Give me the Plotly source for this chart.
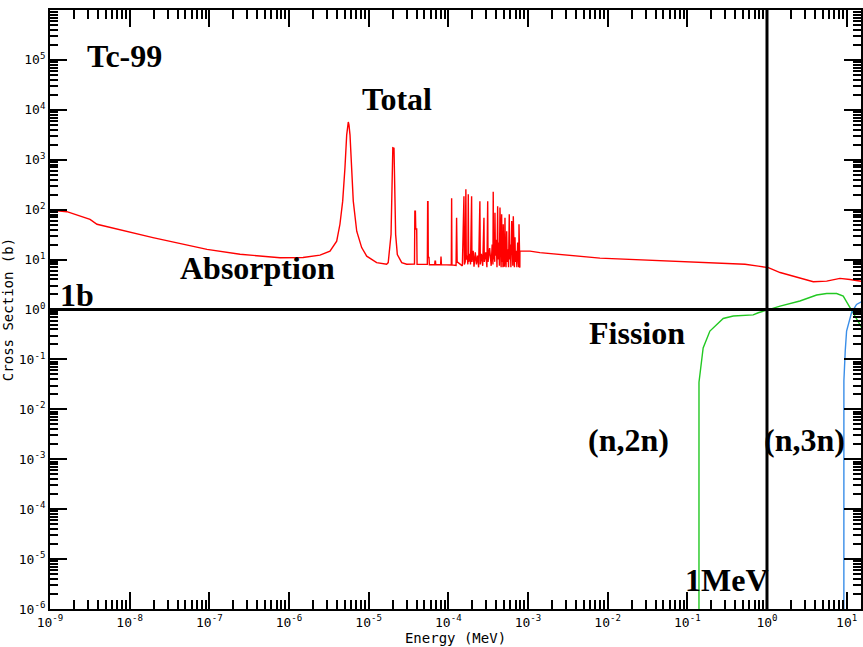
import plotly.graph_objects as go

# ---------------- data ----------------
# Total cross section of Tc-99 (energy in MeV, cross section in barns)
total_energy = [
    1.0e-9, 1.63e-9, 3.18e-9, 3.89e-9, 1.96e-8, 9.35e-8, 2.43e-7, 7.70e-7, 1.5e-6,
    2.45e-6, 3.27e-6, 3.97e-6, 4.36e-6, 4.72e-6, 5.04e-6, 5.30e-6, 5.55e-6, 5.66e-6,
    5.83e-6, 6.12e-6, 6.41e-6, 7.08e-6, 8.17e-6, 9.45e-6, 1.26e-5, 1.68e-5,
    1.76e-5, 1.91e-5, 2.01e-5, 2.08e-5, 2.18e-5, 2.29e-5, 2.60e-5, 3.0e-5,
    3.76e-5, 3.80e-5, 3.86e-5, 3.90e-5, 4.01e-5, 4.05e-5,
    5.45e-5, 5.50e-5, 5.56e-5, 5.60e-5, 5.72e-5, 5.78e-5,
    6.75e-5, 6.80e-5, 6.90e-5, 6.95e-5,
    8.00e-5, 8.09e-5, 8.20e-5,
    1.09e-4, 1.10e-4, 1.11e-4,
    1.25e-4, 1.27e-4, 1.29e-4,
    1.50e-4, 1.57e-4, 1.59e-4, 1.63e-4, 1.66e-4, 1.68e-4, 1.72e-4, 1.76e-4, 1.78e-4,
    1.80e-4, 1.86e-4, 1.90e-4, 1.96e-4, 1.98e-4, 2.05e-4, 2.10e-4, 2.18e-4, 2.25e-4,
    2.32e-4, 2.40e-4, 2.49e-4, 2.52e-4, 2.60e-4, 2.70e-4, 2.80e-4, 2.83e-4, 2.95e-4,
    3.05e-4, 3.12e-4, 3.15e-4, 3.30e-4, 3.45e-4, 3.55e-4, 3.63e-4, 3.66e-4, 3.70e-4,
    3.78e-4, 3.82e-4, 3.85e-4, 3.90e-4, 4.00e-4, 4.08e-4, 4.16e-4, 4.20e-4, 4.30e-4,
    4.38e-4, 4.45e-4, 4.50e-4, 4.60e-4, 4.67e-4, 4.72e-4, 4.80e-4, 4.85e-4, 4.89e-4,
    4.95e-4, 5.05e-4, 5.14e-4, 5.20e-4, 5.30e-4, 5.40e-4, 5.48e-4, 5.60e-4, 5.70e-4,
    5.82e-4, 5.88e-4, 6.00e-4, 6.10e-4, 6.25e-4, 6.32e-4, 6.45e-4, 6.54e-4, 6.60e-4,
    6.75e-4, 6.87e-4, 6.95e-4, 7.10e-4, 7.25e-4, 7.42e-4, 7.50e-4, 7.60e-4, 7.65e-4,
    7.71e-4, 7.80e-4, 7.90e-4, 7.92e-4,
    1.06e-3, 1.41e-3, 8.0e-3, 3.40e-2, 0.144, 0.257, 0.530, 0.777, 1.04, 1.46, 2.36,
    3.81, 5.61, 8.24, 11.0, 15.4, 20.0,
]
total_xs = [
    98, 91, 64, 51, 27.5, 16, 12.8, 10.9, 11.0,
    12.3, 14.8, 23.4, 51, 148, 692, 3160, 5700, 5000,
    3160, 513, 148, 37, 17.4, 11.7, 8.7, 8.05,
    8.7, 32, 1740, 1700, 32, 12.6, 8.7, 8.06,
    8.1, 93, 93, 41, 41, 8.0,
    8.0, 145, 145, 11, 11, 7.9,
    7.9, 9.3, 9.3, 7.9,
    7.9, 11.5, 7.9,
    7.8, 170, 7.8,
    7.6, 69, 9,
    7.5, 186, 8, 9, 257, 10, 12, 8, 204,
    9, 13, 8, 186, 9, 15, 7.2, 14, 8,
    12, 7, 148, 8, 13, 7.5, 69, 9, 14,
    7, 148, 9, 17, 7.5, 20, 8, 229, 10,
    30, 9, 87, 12, 25, 7, 117, 10, 22,
    7.5, 110, 12, 7, 81, 9, 18, 7, 51,
    10, 7.2, 69, 11, 7, 37, 9, 16, 7,
    81, 10, 20, 7, 59, 9, 7.5, 74, 10,
    7, 28, 9, 15, 7, 22, 8, 12, 7,
    51, 8, 6.9, 14.8,
    14.8, 13.8, 10.7, 9.8, 8.7, 8.4, 8.05, 7.4, 6.9, 5.5, 4.4,
    3.6, 3.7, 4.2, 4.0, 3.6, 3.4,
]

# Threshold reaction (green curve)
green_energy = [0.140, 0.1401, 0.146, 0.158, 0.192, 0.282, 0.377, 0.671, 0.777, 1.04,
                1.46, 2.59, 4.20, 5.61, 7.49, 9.06, 11.0, 15.4, 20.0]
green_xs = [1e-8, 0.035, 0.06, 0.17, 0.37, 0.66, 0.74, 0.78, 0.86, 1.0,
            1.17, 1.48, 1.95, 2.09, 2.09, 1.86, 1.09, 0.44, 0.3]

# (n,2n) (blue curve)
blue_energy = [9.22, 9.23, 9.6, 9.98, 11.5, 13.3, 15.4, 20.0]
blue_xs = [1e-8, 0.037, 0.15, 0.37, 0.86, 1.26, 1.43, 1.5]

# reference lines
one_barn = 1.0
one_mev = 1.0
x_limits = [1e-9, 20.0]
y_limits = [1e-6, 1e6]

# axis ticks
x_decades = list(range(-9, 2))
y_decades = list(range(-6, 6))
x_ticktext = ["10<sup>%d</sup>" % k for k in x_decades]
y_ticktext = ["10<sup>%d</sup>" % k for k in y_decades]

# ---------------- figure ----------------
W, H = 863, 647
ML, MR, MT, MB = 50, 2, 10, 38
PW, PH = W - ML - MR, H - MT - MB


def px(x):
    return (x - ML) / PW


def py(y):
    return 1 - (y - MT) / PH


fig = go.Figure()
fig.add_trace(go.Scatter(x=total_energy, y=total_xs, mode="lines",
                         line=dict(color="#ff0000", width=1.4), name="Total"))
fig.add_trace(go.Scatter(x=green_energy, y=green_xs, mode="lines",
                         line=dict(color="#22c822", width=1.4), name="green"))
fig.add_trace(go.Scatter(x=blue_energy, y=blue_xs, mode="lines",
                         line=dict(color="#3a8ee8", width=1.4), name="(n,2n)"))
fig.add_trace(go.Scatter(x=x_limits, y=[one_barn, one_barn], mode="lines",
                         line=dict(color="black", width=3), name="1b"))
fig.add_trace(go.Scatter(x=[one_mev, one_mev], y=y_limits, mode="lines",
                         line=dict(color="black", width=3), name="1MeV"))

label_font = dict(family="Liberation Serif", size=32, color="black")
labels = [
    ("Tc-99", 85, 56),
    ("Total", 360, 99),
    ("Absorption", 178, 268),
    ("1b", 58, 295),
    ("Fission", 587, 333),
    ("(n,2n)", 586, 440),
    ("(n,3n)", 762, 440),
    ("1MeV", 683, 580),
]
for text, lx, ly in labels:
    fig.add_annotation(text="<b>%s</b>" % text, x=px(lx), y=py(ly), xref="paper",
                       yref="paper", xanchor="left", yanchor="middle",
                       showarrow=False, font=label_font)

mono = "DejaVu Sans Mono"
axis_common = dict(
    type="log", showline=True, linecolor="black", linewidth=2, mirror="allticks",
    ticks="inside", ticklen=17, tickwidth=1.5, tickcolor="black", showgrid=False,
    zeroline=False, automargin=False,
    tickfont=dict(family=mono, size=13, color="black"),
)
fig.update_xaxes(
    **axis_common, range=[-9, 1.18], tickmode="array",
    tickvals=[10.0 ** k for k in x_decades], ticktext=x_ticktext,
    minor=dict(ticks="inside", ticklen=9, tickwidth=1.5, tickcolor="black",
               tickvals=[m * 10.0 ** k for k in x_decades for m in range(2, 10)],
               showgrid=False),
    title=dict(text="Energy (MeV)", font=dict(family=mono, size=14, color="black"),
               standoff=3),
)
fig.update_yaxes(
    **axis_common, range=[-6, 6], tickmode="array",
    tickvals=[10.0 ** k for k in y_decades], ticktext=y_ticktext,
    minor=dict(ticks="inside", ticklen=8, tickwidth=1.5, tickcolor="black",
               tickvals=[m * 10.0 ** k for k in y_decades for m in range(2, 10)],
               showgrid=False),
    title=dict(text="Cross Section (b)", font=dict(family=mono, size=14, color="black"),
               standoff=8),
)
fig.update_layout(
    width=W, height=H, autosize=False,
    margin=dict(l=ML, r=MR, t=MT, b=MB, pad=0),
    plot_bgcolor="white", paper_bgcolor="white", showlegend=False,
    hovermode=False,
)
fig.write_html(
    "out.html",
    config={"displayModeBar": False},
    post_script="document.body.style.margin='0';document.body.style.padding='0';"
                "document.body.style.overflow='hidden';"
                "document.documentElement.style.overflow='hidden';",
)
